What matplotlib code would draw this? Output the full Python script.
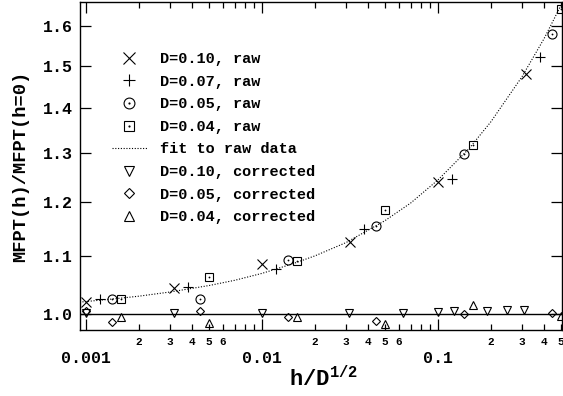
"""
MFPT ratio vs h/D^(1/2), raw and corrected
"""

import math

import matplotlib

matplotlib.use("Agg")
import matplotlib.pyplot as plt
from matplotlib.legend_handler import HandlerTuple
from matplotlib.ticker import FixedLocator, FuncFormatter, LogLocator, NullLocator

plt.rcParams["font.family"] = ["Liberation Mono", "DejaVu Sans"]
plt.rcParams["font.weight"] = "bold"
plt.rcParams["mathtext.fontset"] = "custom"
plt.rcParams["mathtext.rm"] = "Liberation Mono:bold"
plt.rcParams["mathtext.bf"] = "Liberation Mono:bold"

# --------------------------------
#       DATA  (x = h/D^(1/2))
# --------------------------------
x_d10 = [0.001, 0.00316, 0.01, 0.0316, 0.1, 0.316]
y_d10_raw = [1.020, 1.043, 1.086, 1.125, 1.240, 1.479]

x_d07 = [0.0012, 0.00378, 0.012, 0.0378, 0.12, 0.378]
y_d07_raw = [1.026, 1.045, 1.077, 1.149, 1.246, 1.522]

x_d05 = [0.00141, 0.00447, 0.0141, 0.0447, 0.141, 0.447]
y_d05_raw = [1.0245, 1.026, 1.093, 1.155, 1.299, 1.580]

x_d04 = [0.00158, 0.005, 0.0158, 0.05, 0.158, 0.5]
y_d04_raw = [1.0245, 1.063, 1.091, 1.185, 1.318, 1.645]

# dotted fit curve
fit_x = [0.00092, 0.0015, 0.002, 0.003, 0.005, 0.007, 0.01, 0.015, 0.02,
         0.03, 0.05, 0.07, 0.1, 0.15, 0.2, 0.3, 0.4, 0.5, 0.506]
fit_y = [1.020, 1.026, 1.030, 1.037, 1.048, 1.057, 1.069, 1.086, 1.100,
         1.124, 1.165, 1.199, 1.245, 1.310, 1.369, 1.473, 1.567, 1.655, 1.661]

x_d10_corr = [0.001, 0.00316, 0.01, 0.0312, 0.063, 0.1, 0.124, 0.19, 0.247, 0.31]
y_d10_corr = [1.002, 1.002, 1.002, 1.002, 1.002, 1.004, 1.005, 1.005, 1.007, 1.007]

x_d05_corr = [0.001, 0.00141, 0.00447, 0.0141, 0.0447, 0.141, 0.447]
y_d05_corr = [1.006, 0.9876, 1.0053, 0.9956, 0.9893, 1.000, 1.002]

x_d04_corr = [0.00158, 0.005, 0.0158, 0.05, 0.158, 0.5]
y_d04_corr = [0.9961, 0.9865, 0.9961, 0.984, 1.015, 0.9977]

y_ticks = [1.0, 1.1, 1.2, 1.3, 1.4, 1.5, 1.6]
x_major = [0.001, 0.01, 0.1]


def minor_label(v, pos=None):
    m = v / 10 ** math.floor(math.log10(v) + 1e-9)
    k = int(round(m))
    return str(k) if 2 <= k <= 6 else ""


fig = plt.figure(figsize=(5.63, 3.96), dpi=100)
ax = fig.add_axes([80 / 563, 1 - 330 / 396, 482 / 563, 328 / 396])

ax.set_xscale("log")
ax.set_yscale("log")
ax.set_xlim(0.000924, 0.5066)
ax.set_ylim(0.9747, 1.664)

mk = dict(color="black", linestyle="none", markerfacecolor="none", markeredgewidth=0.8)
dot = dict(color="black", linestyle="none", marker="o", markersize=1.3, markeredgewidth=0)

h_x, = ax.plot(x_d10, y_d10_raw, marker="x", markersize=7.5, **mk)
h_p, = ax.plot(x_d07, y_d07_raw, marker="+", markersize=7.5, **mk)
h_o, = ax.plot(x_d05, y_d05_raw, marker="o", markersize=6.5, **mk)
h_od, = ax.plot(x_d05, y_d05_raw, **dot)
h_s, = ax.plot(x_d04, y_d04_raw, marker="s", markersize=6.2, **mk)
h_sd, = ax.plot(x_d04, y_d04_raw, **dot)
h_fit, = ax.plot(fit_x, fit_y, color="black", lw=0.8, linestyle=(0, (1, 1.5)))
h_v, = ax.plot(x_d10_corr, y_d10_corr, marker="v", markersize=6, **mk)
h_d, = ax.plot(x_d05_corr, y_d05_corr, marker="D", markersize=4.2, **mk)
h_t, = ax.plot(x_d04_corr, y_d04_corr, marker="^", markersize=6, **mk)

ax.axhline(1.0, color="black", lw=1.0)

# ticks
ax.yaxis.set_major_locator(FixedLocator(y_ticks))
ax.yaxis.set_major_formatter(FuncFormatter(lambda v, p: f"{v:.1f}"))
ax.yaxis.set_minor_locator(NullLocator())
ax.xaxis.set_major_locator(FixedLocator(x_major))
ax.xaxis.set_major_formatter(FuncFormatter(lambda v, p: f"{v:g}"))
ax.xaxis.set_minor_locator(LogLocator(base=10, subs=(2, 3, 4, 5, 6, 7, 8, 9)))
ax.xaxis.set_minor_formatter(FuncFormatter(minor_label))

ax.tick_params(which="both", direction="in", top=True, right=True, width=0.9, colors="black")
ax.tick_params(which="major", length=7.7)
ax.tick_params(which="minor", length=4.3)
ax.tick_params(axis="y", which="major", labelsize=12, pad=5)
ax.tick_params(axis="x", which="major", labelsize=12, pad=15)
ax.tick_params(axis="x", which="minor", labelsize=8, pad=5)
for lab in ax.get_xticklabels(which="both") + ax.get_yticklabels():
    lab.set_fontweight("bold")
for sp in ax.spines.values():
    sp.set_linewidth(1.0)

ax.set_ylabel("MFPT(h)/MFPT(h=0)", fontsize=13.5, fontweight="bold")
ax.yaxis.set_label_coords(-0.106, 0.5)
ax.set_xlabel(r"h/D$^{\rm 1/2}$", fontsize=16, fontweight="bold")
ax.xaxis.set_label_coords(0.505, -0.11)

handles = [h_x, h_p, (h_o, h_od), (h_s, h_sd), h_fit, h_v, h_d, h_t]
labels = ["D=0.10, raw", "D=0.07, raw", "D=0.05, raw", "D=0.04, raw",
          "fit to raw data", "D=0.10, corrected", "D=0.05, corrected",
          "D=0.04, corrected"]
ax.legend(
    handles,
    labels,
    handler_map={tuple: HandlerTuple(ndivide=1)},
    loc="upper left",
    bbox_to_anchor=(0.066, 0.847),
    bbox_transform=ax.transAxes,
    frameon=False,
    borderpad=0,
    borderaxespad=0,
    handlelength=2.3,
    handletextpad=0.85,
    labelspacing=0.56,
    markerscale=1.2,
    prop={"family": "Liberation Mono", "weight": "bold", "size": 11},
)

fig.savefig("out.png", dpi=100)
